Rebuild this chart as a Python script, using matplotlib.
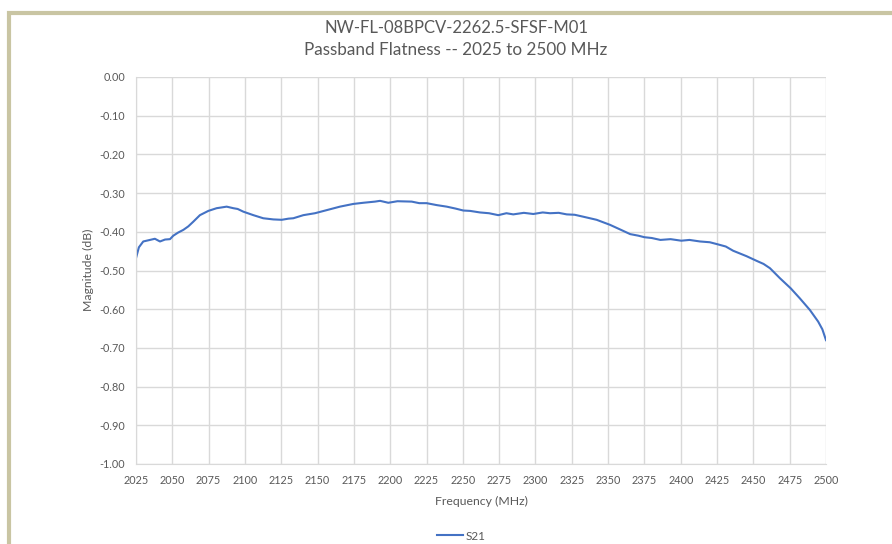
import numpy as np
import matplotlib.pyplot as plt
from matplotlib.patches import Rectangle

plt.rcParams['font.family'] = ['Lato', 'DejaVu Sans']

# Frequency (MHz) and S21 magnitude (dB)
freq = [2025, 2027, 2030, 2034.6, 2038, 2041.5, 2045, 2048.4, 2050.7, 2054,
        2057.6, 2061, 2064.4, 2069, 2074.8, 2080.5, 2084, 2087.4, 2092, 2095,
        2098.9, 2105.8, 2112.6, 2119.5, 2125.3, 2130, 2133.3, 2140.2, 2148.2,
        2156.3, 2165.4, 2174.6, 2181.5, 2189.5, 2193, 2198.7, 2205, 2214.8,
        2220, 2225.1, 2232, 2238.9, 2245, 2250.3, 2255, 2261.8, 2268, 2274.4,
        2280, 2284.7, 2292, 2298.5, 2305, 2310, 2316, 2321.5, 2327, 2332.9,
        2342.1, 2351.3, 2358.3, 2365.2, 2370.8, 2375, 2380, 2386, 2393, 2400.4,
        2406, 2413.3, 2420, 2425.1, 2431, 2436.1, 2445.3, 2452.2, 2457,
        2461.4, 2468.3, 2475.7, 2482, 2488.9, 2494.6, 2497.5, 2500]
s21 = [-0.468, -0.440, -0.425, -0.421, -0.418, -0.425, -0.420, -0.419, -0.410, -0.402,
       -0.395, -0.386, -0.374, -0.357, -0.346, -0.339, -0.337, -0.335, -0.339, -0.341,
       -0.348, -0.357, -0.365, -0.368, -0.369, -0.366, -0.365, -0.357, -0.352,
       -0.344, -0.335, -0.328, -0.325, -0.322, -0.320, -0.325, -0.321, -0.322,
       -0.326, -0.326, -0.331, -0.335, -0.340, -0.345, -0.346, -0.350, -0.352, -0.357,
       -0.352, -0.355, -0.351, -0.354, -0.350, -0.352, -0.351, -0.355, -0.356, -0.361,
       -0.369, -0.382, -0.394, -0.406, -0.410, -0.414, -0.416, -0.421, -0.419, -0.423,
       -0.421, -0.425, -0.427, -0.432, -0.438, -0.449, -0.463, -0.475, -0.483,
       -0.494, -0.520, -0.546, -0.572, -0.602, -0.632, -0.652, -0.680]

title_lines = ['NW-FL-08BPCV-2262.5-SFSF-M01', 'Passband Flatness -- 2025 to 2500 MHz']
x_ticks = np.arange(2025, 2501, 25)
y_ticks = np.round(np.arange(-1.0, 0.001, 0.1), 2)

grey = '#595959'
fig = plt.figure(figsize=(8.92, 5.44), dpi=100)
W, H = 892, 544

# beige frame (only the left and top edges show in the crop)
fig.patches.append(Rectangle((8.7 / W, -0.1), 1.2, 1 - 12.7 / H + 0.1,
                             transform=fig.transFigure, fill=False,
                             edgecolor='#c9c5a3', linewidth=3))

ax = fig.add_axes([136 / W, 1 - 464 / H, 690 / W, 387 / H])
ax.plot(freq, s21, color='#4472c4', linewidth=1.5, label='S21')

ax.set_xlim(2025, 2500)
ax.set_ylim(-1.0, 0.0)
ax.set_xticks(x_ticks)
ax.set_yticks(y_ticks)
ax.set_yticklabels(['%.2f' % (v if v != 0 else 0.0) for v in y_ticks])
ax.grid(True, color='#d9d9d9', linewidth=1)
ax.set_axisbelow(True)
for s in ['top', 'right']:
    ax.spines[s].set_visible(False)
for s in ['left', 'bottom']:
    ax.spines[s].set_color('#d9d9d9')
ax.tick_params(length=0, labelsize=7.8, labelcolor=grey)
ax.tick_params(axis='x', pad=8)
ax.tick_params(axis='y', pad=8)

fig.text(456 / W, 1 - 28 / H, title_lines[0], ha='center', va='center',
         fontsize=12, color=grey)
fig.text(456 / W, 1 - 50 / H, title_lines[1], ha='center', va='center',
         fontsize=12.3, color=grey)
fig.text(88 / W, 1 - 270 / H, 'Magnitude (dB)', rotation=90, ha='center',
         va='center', fontsize=8.8, color=grey)
fig.text(481 / W, 1 - 501 / H, 'Frequency (MHz)', ha='center', va='center',
         fontsize=8.8, color=grey)

fig.legend(loc='center', bbox_to_anchor=(461 / W, 1 - 536 / H), frameon=False,
           fontsize=8.5, labelcolor=grey, handlelength=2.2, handletextpad=0.2)

fig.savefig('out.png', dpi=100)
